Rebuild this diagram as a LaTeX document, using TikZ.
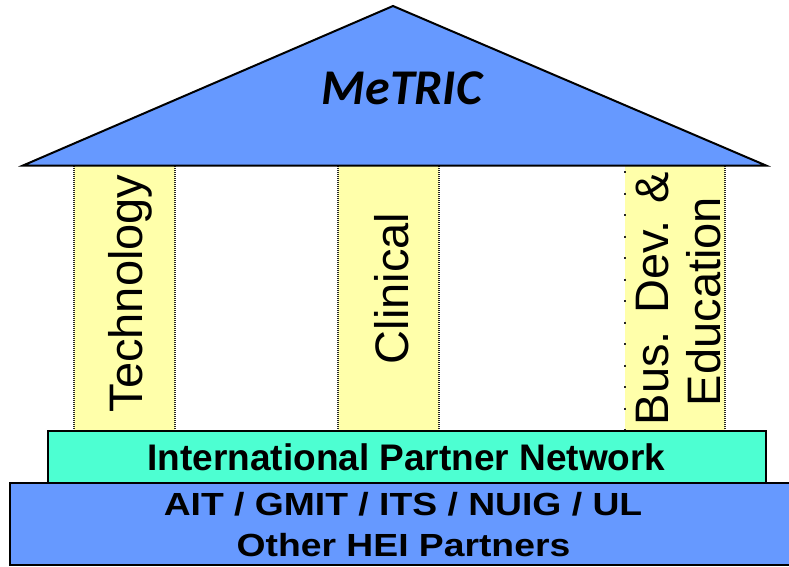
\documentclass[tikz,border=0pt]{standalone}
\usepackage{fontspec}
\setmainfont{Liberation Sans}
\newfontfamily\calib{Carlito}
\definecolor{roofblue}{HTML}{6699FF}
\definecolor{pillaryellow}{HTML}{FFFFAA}
\definecolor{bandgreen}{HTML}{4DFFD2}
\tikzset{
  pillarfill/.style={fill=pillaryellow},
  pillaredge/.style={draw=black!85, line width=1.8pt, dash pattern=on 1pt off 1pt},
  pillarsparse/.style={draw=black!85, line width=1.8pt, dash pattern=on 2pt off 19.5pt},
  solidbox/.style={draw=black, line width=2pt, line join=miter},
  pillartext/.style={rotate=90, anchor=base, inner sep=0pt, font=\fontsize{47}{51}\selectfont},
  bandtext/.style={anchor=base, inner sep=0pt, font=\fontsize{37}{40}\selectfont\bfseries},
  basetext/.style={anchor=base, inner sep=0pt, font=\fontsize{32}{36}\selectfont\bfseries, xscale=1.165},
}
\begin{document}
\begin{tikzpicture}[x=1pt,y=-1pt]
\useasboundingbox (0,0) rectangle (789,566);
% pillars
\fill[pillarfill] (74,165) rectangle (175,431);
\fill[pillarfill] (338,165) rectangle (439,431);
\fill[pillarfill] (625,165) rectangle (725,431);
\draw[pillaredge] (74,166) -- (74,430);
\draw[pillaredge] (175,166) -- (175,430);
\draw[pillaredge] (338,166) -- (338,430);
\draw[pillaredge] (439,166) -- (439,430);
\draw[pillarsparse] (625,171) -- (625,430);
\draw[pillaredge] (725,166) -- (725,430);
\node[pillartext] (tech) at (142,293.5) {Technology};
\node[pillartext] (clin) at (408,288.5) {Clinical};
\node[pillartext] (busa) at (668,298.5) {Bus. Dev. \&};
\node[pillartext] (busb) at (720,301.5) {Education};
% roof
\draw[solidbox, fill=roofblue] (23,165.5) -- (393,6) -- (766,165.5) -- cycle;
\node[anchor=base, inner sep=0pt, font=\calib\fontsize{50}{54}\selectfont\bfseries\itshape] (title) at (402,104) {MeTRIC};
% band
\draw[solidbox, fill=bandgreen] (48,431) rectangle (766,483);
\node[bandtext] (ipn) at (406.5,470) {International Partner Network};
% base
\draw[solidbox, fill=roofblue] (10,483) rectangle (792,565);
\node[basetext] (hei1) at (403,515.5) {AIT / GMIT / ITS / NUIG / UL};
\node[basetext] (hei2) at (403.5,556) {Other HEI Partners};
\end{tikzpicture}
\end{document}
